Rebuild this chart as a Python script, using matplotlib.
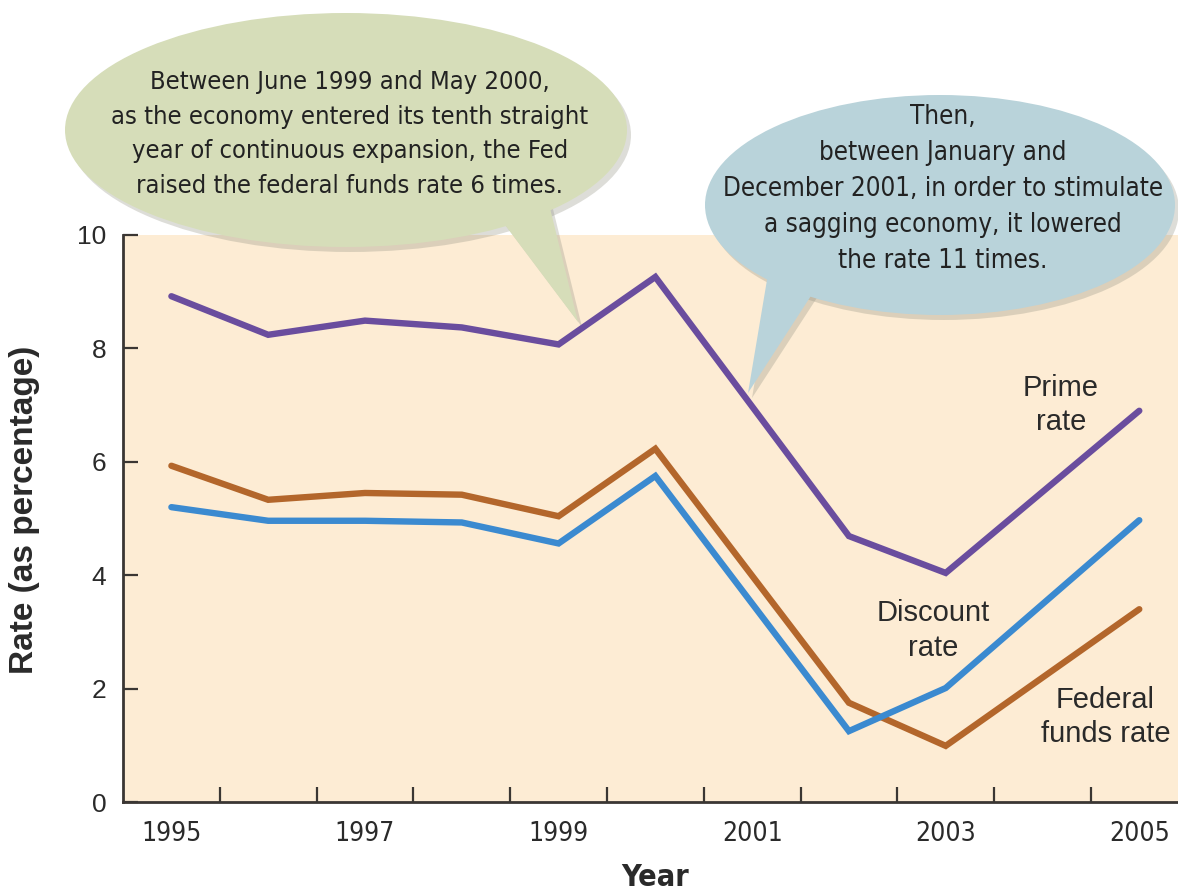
import matplotlib
matplotlib.use('Agg')
import matplotlib.pyplot as plt
import numpy as np
from matplotlib.patches import Ellipse, Polygon
from matplotlib.transforms import Affine2D

# ---- data ----
years = [1995, 1996, 1997, 1998, 1999, 2000, 2002, 2003, 2005]
prime = [8.92, 8.24, 8.49, 8.37, 8.07, 9.26, 4.69, 4.04, 6.90]
discount = [5.20, 4.96, 4.96, 4.93, 4.56, 5.75, 1.25, 2.01, 4.97]
fed_funds = [5.93, 5.33, 5.45, 5.42, 5.04, 6.23, 1.75, 0.99, 3.40]
year_labels = [1995, 1997, 1999, 2001, 2003, 2005]
y_ticks = [0, 2, 4, 6, 8, 10]

green_text = ("Between June 1999 and May 2000,\n"
              "as the economy entered its tenth straight\n"
              "year of continuous expansion, the Fed\n"
              "raised the federal funds rate 6 times.")
blue_text = ("Then,\n"
             "between January and\n"
             "December 2001, in order to stimulate\n"
             "a sagging economy, it lowered\n"
             "the rate 11 times.")

W, H = 1178, 891
fig = plt.figure(figsize=(W / 100, H / 100), dpi=100)
fig.patch.set_facecolor('white')
px = Affine2D().scale(1 / W, -1 / H).translate(0, 1) + fig.transFigure

ax = fig.add_axes([123 / W, 89 / H, 1055 / W, 567 / H])
ax.set_facecolor('#fdecd4')
for s in ['top', 'right']:
    ax.spines[s].set_visible(False)
for s in ['left', 'bottom']:
    ax.spines[s].set_color('#3a3633')
    ax.spines[s].set_linewidth(2)

ax.set_xlim(1994.5, 2005.4)
ax.set_ylim(0, 10)

c_prime = '#6a4d9e'
c_disc = '#3b8ad0'
c_fed = '#b3662b'
lw = 4.6
ax.plot(years, fed_funds, color=c_fed, lw=lw, solid_capstyle='round', solid_joinstyle='miter', zorder=4)
ax.plot(years, discount, color=c_disc, lw=lw, solid_capstyle='round', solid_joinstyle='miter', zorder=4)
ax.plot(years, prime, color=c_prime, lw=lw, solid_capstyle='round', solid_joinstyle='miter', zorder=4)

# fonts
cond = dict(family='DejaVu Sans', fontstretch='condensed')
reg = ['Liberation Sans', 'DejaVu Sans']

ax.set_xticks(np.arange(years[0] + 0.5, years[-1], 1.0))
ax.set_xticklabels([])
ax.tick_params(axis='x', which='major', direction='in', length=11, width=1.6, color='#3a3633')
ax.set_xticks(year_labels, minor=True)
ax.set_xticklabels([str(y) for y in year_labels], minor=True, fontsize=19, color='#2a2a2a', **cond)
ax.tick_params(axis='x', which='minor', length=0, pad=14)

ax.set_yticks(y_ticks)
ax.set_yticklabels([str(v) for v in y_ticks], fontsize=19, family=reg, color='#2a2a2a')
ax.tick_params(axis='y', direction='in', length=11, width=1.6, color='#3a3633', pad=12)

fig.text(655, 877, 'Year', transform=px, ha='center', va='center', fontsize=22,
         fontweight='bold', color='#2a2a2a', **cond)
fig.text(25, 510, 'Rate (as percentage)', transform=px, ha='center', va='center', rotation=90,
         fontsize=24, fontweight='bold', family=reg, color='#2a2a2a')

# line labels
ax.text(2004.19, 7.0, 'Prime\nrate', ha='center', va='center', fontsize=21, family=reg,
        color='#2a2a2a', linespacing=1.3, zorder=5)
ax.text(2002.87, 3.02, 'Discount\nrate', ha='center', va='center', fontsize=21, family=reg,
        color='#2a2a2a', linespacing=1.3, zorder=5)
ax.text(2004.65, 1.5, 'Federal\nfunds rate', ha='center', va='center', fontsize=21, family=reg,
        color='#2a2a2a', linespacing=1.3, zorder=5)

# speech bubbles
def bubble(center, w, h, tail, color):
    sx, sy = 4, 5
    sh = dict(color='#8f8f80', alpha=0.3, lw=0, transform=px, clip_on=False, zorder=1)
    ax.add_patch(Ellipse((center[0] + sx, center[1] + sy), w, h, **sh))
    ax.add_patch(Polygon([(x + sx, y + sy) for x, y in tail], closed=True, **sh))
    fc = dict(color=color, lw=0, transform=px, clip_on=False, zorder=2)
    ax.add_patch(Ellipse(center, w, h, **fc))
    ax.add_patch(Polygon(tail, closed=True, **fc))

bubble((346, 130), 562, 234, [(490, 205), (548, 200), (578, 322)], '#d6ddb9')
bubble((940, 205), 470, 220, [(770, 262), (818, 285), (748, 393)], '#b9d3da')

fig.text(350, 134, green_text, transform=px, ha='center', va='center', fontsize=18.3,
         color='#222222', linespacing=1.55, **cond)
fig.text(943, 189, blue_text, transform=px, ha='center', va='center', fontsize=18.6,
         color='#222222', linespacing=1.5, **cond)

fig.savefig('out.png', dpi=100)
